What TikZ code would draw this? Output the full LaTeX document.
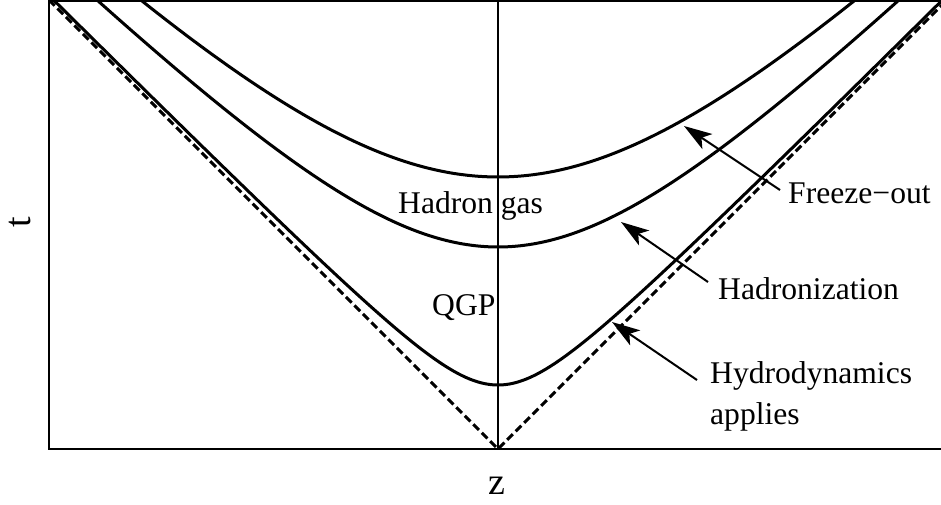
\documentclass[tikz,border=0pt]{standalone}
\usepackage{fontspec}
\setmainfont{Liberation Serif}
\usetikzlibrary{arrows.meta}
\begin{document}
\begin{tikzpicture}[x=1pt,y=-1pt,
  lbl/.style={inner sep=0pt,anchor=base west,font=\fontsize{31.6}{40}\selectfont},
  axlbl/.style={inner sep=0pt,font=\fontsize{38}{44}\selectfont},
  curve/.style={line width=3pt},
  lightcone/.style={line width=3pt,dash pattern=on 8pt off 4pt},
  pointer/.style={line width=2pt,-{Stealth[length=28pt,width=18pt,inset=7pt]}}]
\useasboundingbox (0,0) rectangle (941,504);
% frame
\draw[line width=2pt] (941,1) -- (49,1) -- (49,449) -- (941,449);
% centre line
\draw[line width=1.3pt] (498,0) -- (498,449);
\coordinate (O) at (498,449);
\coordinate (LC) at (49,0);
\coordinate (RC) at (947,0);
\begin{scope}
  \clip (49,0) rectangle (941,449);
  \draw[lightcone] (LC) -- (O) -- (RC);
  \draw[curve] plot[domain=-2.75:2.75,samples=200,smooth] ({498+64*sinh(\x)},{449-64*cosh(\x)});
  \draw[curve] plot[domain=-1.5:1.5,samples=150,smooth] ({498+202*sinh(\x)},{449-202*cosh(\x)});
  \draw[curve] plot[domain=-1.15:1.15,samples=150,smooth] ({498+272*sinh(\x)},{449-272*cosh(\x)});
\end{scope}
% labels
\node[lbl] (hg) at (398,213) {Hadron gas};
\node[lbl] (qgp) at (432,315) {QGP};
\node[lbl] (fo) at (788,203) {Freeze−out};
\node[lbl] (hz) at (718,299) {Hadronization};
\node[lbl] (hy) at (710,383) {Hydrodynamics};
\node[lbl] (ap) at (710,424) {applies};
\node[axlbl,rotate=90] (tl) at (20,222) {t};
\node[axlbl,anchor=base] (zl) at (497,494) {z};
% arrows
\coordinate (fos) at (780,190);
\coordinate (fot) at (684,126);
\coordinate (hzs) at (708,282);
\coordinate (hzt) at (621,222);
\coordinate (hys) at (697,380);
\coordinate (hyt) at (612,322);
\draw[pointer] (fos) -- (fot);
\draw[pointer] (hzs) -- (hzt);
\draw[pointer] (hys) -- (hyt);
\end{tikzpicture}
\end{document}
